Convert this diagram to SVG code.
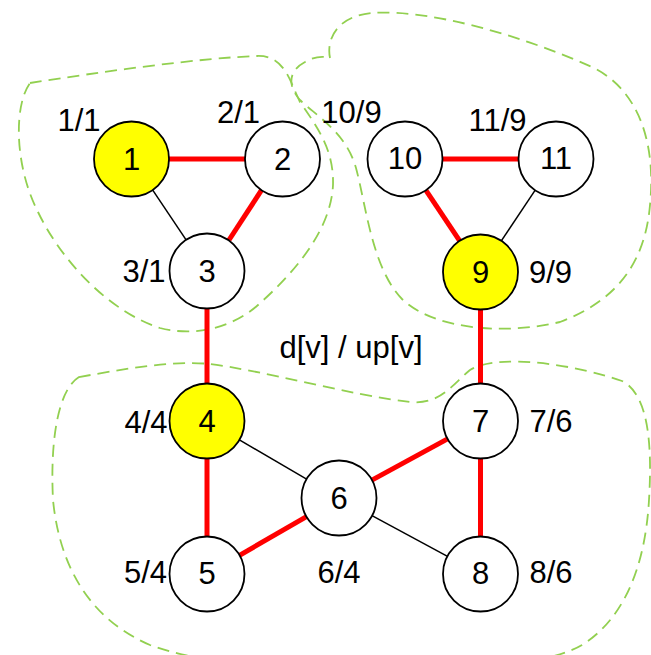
<svg xmlns="http://www.w3.org/2000/svg" width="651" height="655" viewBox="0 0 651 655">
<style>
  text { font-family: "Liberation Sans", Arial, sans-serif; font-size: 31px; fill: #000; text-anchor: middle; }
  .region { fill: none; stroke: #92D050; stroke-width: 1.8; stroke-dasharray: 12 7; }
  .node circle { stroke: #000; stroke-width: 1.8; fill: #fff; }
  .node.root circle { fill: #FFFF00; }
  .tree { stroke: #FF0000; stroke-width: 5; }
  .back { stroke: #000; stroke-width: 1.5; }
</style>
<rect width="651" height="655" fill="#fff"/>
<g id="regions">
  <path class="region" d="M30,83 C 100,72 200,58 257,56 C 285,55 290,82 300,102 C 318,128 334,150 333,185 C 331,230 295,272 258,305 C 232,328 195,337 160,328 C 110,312 62,262 38,212 C 14,165 14,105 30,83 Z"/>
  <path class="region" d="M330,58 C 326,38 338,16 372,13 C 430,9 520,35 592,67 C 640,90 656,145 650,205 C 645,262 618,300 560,322 C 500,336 432,328 402,299 C 372,268 366,205 356,168 C 346,132 315,115 300,100 C 286,84 290,70 305,62 C 315,56 324,56 330,58"/>
  <path class="region" d="M79,377 C 120,370 170,360 210,364 C 260,370 350,395 410,402 C 440,405 452,385 470,370 C 500,352 580,366 622,381 C 650,395 652,450 649,500 C 645,570 622,620 582,645 C 520,682 250,682 150,645 C 92,620 60,570 53,500 C 50,440 58,390 79,377 Z"/>
</g>
<g id="connectors">
  <line class="tree" x1="167" y1="159" x2="246" y2="159"/>
  <line class="tree" x1="261.5" y1="190.1" x2="229" y2="240"/>
  <line class="back" x1="152.4" y1="189.6" x2="186.1" y2="239.9"/>
  <line class="tree" x1="207" y1="308.5" x2="207" y2="383.5"/>
  <line class="tree" x1="442.5" y1="159" x2="518.5" y2="159"/>
  <line class="tree" x1="425.8" y1="190.2" x2="459.7" y2="240.8"/>
  <line class="back" x1="535.2" y1="190.2" x2="501.3" y2="240.8"/>
  <line class="tree" x1="480.5" y1="309.5" x2="480.5" y2="383.5"/>
  <line class="tree" x1="207" y1="458.5" x2="207" y2="536.5"/>
  <line class="back" x1="239.4" y1="439.9" x2="306.6" y2="479.1"/>
  <line class="tree" x1="371.9" y1="480.1" x2="447.6" y2="438.9"/>
  <line class="tree" x1="239.5" y1="555.3" x2="306.5" y2="516.7"/>
  <line class="back" x1="372" y1="515.7" x2="447.5" y2="556.3"/>
  <line class="tree" x1="480.5" y1="458.5" x2="480.5" y2="536.5"/>
</g>
<g id="node1" class="node root"><circle cx="131.5" cy="159" r="37.5"/><text x="131.5" y="169.5">1</text><text x="79" y="131">1/1</text></g>
<g id="node2" class="node"><circle cx="282.5" cy="159" r="37.5"/><text x="282.5" y="169.5">2</text><text x="238.5" y="122.5">2/1</text></g>
<g id="node3" class="node"><circle cx="207" cy="271" r="37.5"/><text x="207" y="281.5">3</text><text x="144" y="281.5">3/1</text></g>
<g id="node10" class="node"><circle cx="405" cy="159" r="37.5"/><text x="405" y="168.5">10</text><text x="351.5" y="122.5">10/9</text></g>
<g id="node11" class="node"><circle cx="556" cy="159" r="37.5"/><text x="556" y="169">11</text><text x="497.5" y="131">11/9</text></g>
<g id="node9" class="node root"><circle cx="480.5" cy="272" r="37.5"/><text x="480.5" y="282.5">9</text><text x="550.5" y="282.5">9/9</text></g>
<g id="node4" class="node root"><circle cx="207" cy="421" r="37.5"/><text x="207" y="432">4</text><text x="146" y="432.5">4/4</text></g>
<g id="node7" class="node"><circle cx="480.5" cy="421" r="37.5"/><text x="480.5" y="432">7</text><text x="551" y="432">7/6</text></g>
<g id="node6" class="node"><circle cx="339" cy="498" r="37.5"/><text x="339" y="509">6</text><text x="339" y="583">6/4</text></g>
<g id="node5" class="node"><circle cx="207" cy="574" r="37.5"/><text x="207" y="584">5</text><text x="145.5" y="583">5/4</text></g>
<g id="node8" class="node"><circle cx="480.5" cy="574" r="37.5"/><text x="480.5" y="584">8</text><text x="551" y="583">8/6</text></g>
<text id="legend" x="351" y="358">d[v] / up[v]</text>
</svg>
